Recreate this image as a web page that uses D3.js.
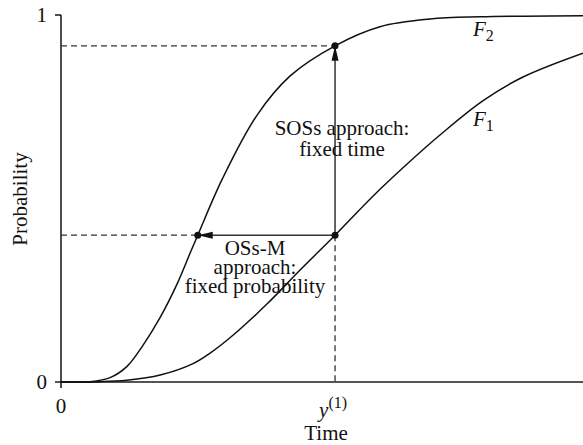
<!DOCTYPE html>
<html>
<head>
<meta charset="utf-8">
<script src="https://cdn.jsdelivr.net/npm/d3@7"></script>
<style>
  body { margin: 0; background: #fff; }
  svg text { font-family: "Liberation Serif", "Times New Roman", serif; fill: #111; }
</style>
</head>
<body>
<svg id="chart"></svg>
<script>
// Curve samples (time, probability)
const timeF1 = [0, 0.75, 1.26, 1.9, 2.53, 2.85, 3.3, 3.95, 4.58, 5.25, 5.98, 6.63, 7.26, 8.08, 8.85, 10];
const probF1 = [0, 0.001, 0.005, 0.019, 0.050, 0.078, 0.128, 0.213, 0.305, 0.40, 0.507, 0.594, 0.673, 0.766, 0.831, 0.896];
const timeF2 = [0, 0.56, 0.94, 1.26, 1.57, 1.9, 2.22, 2.49, 2.62, 3.1, 3.76, 4.39, 5.25, 6.11, 7.07, 8.03, 10];
const probF2 = [0, 0.001, 0.012, 0.042, 0.100, 0.176, 0.266, 0.357, 0.40, 0.556, 0.728, 0.834, 0.916, 0.968, 0.989, 0.995, 0.998];

// Marked points
const fixedTime = 5.25;     // y(1)
const fixedProb = 0.40;     // F1(y(1))
const probAtTime = 0.916;   // F2(y(1))
const timeAtProb = 2.62;    // F2^-1(0.40)

const yTicks = [0, 1];
const xTicks = [0];

const width = 583, height = 445;
const svg = d3.select('#chart').attr('width', width).attr('height', height);

const x = d3.scaleLinear().domain([0, 10]).range([61, 583]);
const y = d3.scaleLinear().domain([0, 1]).range([382, 15]);

// Arrow head
const defs = svg.append('defs');
defs.append('marker')
    .attr('id', 'head')
    .attr('markerUnits', 'userSpaceOnUse')
    .attr('viewBox', '0 -4 15 8')
    .attr('refX', 15).attr('refY', 0)
    .attr('markerWidth', 15).attr('markerHeight', 8)
    .attr('orient', 'auto')
  .append('path')
    .attr('d', 'M0,-3.5L15,0L0,3.5Z')
    .attr('fill', '#111');

// Axes
svg.append('line')
    .attr('x1', 55).attr('x2', 583)
    .attr('y1', y(0)).attr('y2', y(0))
    .attr('stroke', '#555').attr('stroke-width', 2.2);
svg.append('line')
    .attr('x1', x(0)).attr('x2', x(0))
    .attr('y1', y(1)).attr('y2', y(0) + 6)
    .attr('stroke', '#111').attr('stroke-width', 1.5);
svg.append('line')
    .attr('x1', 55).attr('x2', x(0))
    .attr('y1', y(1)).attr('y2', y(1))
    .attr('stroke', '#111').attr('stroke-width', 1.5);

svg.selectAll('.ytick')
    .data(yTicks)
    .enter().append('text')
    .attr('x', 47)
    .attr('y', d => y(d) + 7)
    .attr('text-anchor', 'end')
    .attr('font-size', 21)
    .text(d => d);

svg.selectAll('.xtick')
    .data(xTicks)
    .enter().append('text')
    .attr('x', d => x(d))
    .attr('y', 413)
    .attr('text-anchor', 'middle')
    .attr('font-size', 21)
    .text(d => d);

// y(1) label
const yLab = svg.append('text')
    .attr('x', x(fixedTime) - 2)
    .attr('y', 417)
    .attr('text-anchor', 'middle')
    .attr('font-size', 21);
yLab.append('tspan').attr('font-style', 'italic').text('y');
yLab.append('tspan').attr('font-size', 16).attr('dy', -9).text('(1)');

svg.append('text')
    .attr('x', 326).attr('y', 440)
    .attr('text-anchor', 'middle')
    .attr('font-size', 21)
    .text('Time');

svg.append('text')
    .attr('transform', 'translate(27,199) rotate(-90)')
    .attr('text-anchor', 'middle')
    .attr('font-size', 21)
    .text('Probability');

// Dashed guides
const dash = svg.append('g')
    .attr('stroke', '#333').attr('stroke-width', 1.3)
    .attr('stroke-dasharray', '6,4').attr('fill', 'none');
dash.append('line')
    .attr('x1', x(0)).attr('x2', x(fixedTime))
    .attr('y1', y(probAtTime)).attr('y2', y(probAtTime));
dash.append('line')
    .attr('x1', x(0)).attr('x2', x(timeAtProb))
    .attr('y1', y(fixedProb)).attr('y2', y(fixedProb));
dash.append('line')
    .attr('x1', x(fixedTime)).attr('x2', x(fixedTime))
    .attr('y1', y(fixedProb)).attr('y2', y(0));

// Curves
const line = d3.line()
    .x(d => x(d[0]))
    .y(d => y(d[1]))
    .curve(d3.curveCatmullRom.alpha(0.5));

svg.append('path')
    .datum(d3.zip(timeF1, probF1))
    .attr('d', line)
    .attr('fill', 'none').attr('stroke', '#111').attr('stroke-width', 1.5);
svg.append('path')
    .datum(d3.zip(timeF2, probF2))
    .attr('d', line)
    .attr('fill', 'none').attr('stroke', '#111').attr('stroke-width', 1.5);

// Arrows
svg.append('line')
    .attr('x1', x(fixedTime)).attr('x2', x(fixedTime))
    .attr('y1', y(fixedProb)).attr('y2', y(probAtTime))
    .attr('stroke', '#333').attr('stroke-width', 1.5)
    .attr('marker-end', 'url(#head)');
svg.append('line')
    .attr('x1', x(fixedTime)).attr('x2', x(timeAtProb))
    .attr('y1', y(fixedProb)).attr('y2', y(fixedProb))
    .attr('stroke', '#333').attr('stroke-width', 1.5)
    .attr('marker-end', 'url(#head)');

// Dots
const dots = [[fixedTime, fixedProb], [fixedTime, probAtTime], [timeAtProb, fixedProb]];
svg.selectAll('.dot')
    .data(dots)
    .enter().append('circle')
    .attr('cx', d => x(d[0]))
    .attr('cy', d => y(d[1]))
    .attr('r', 3.5)
    .attr('fill', '#111');

// Annotations
function block(lines, cx, y0, dy) {
    const t = svg.append('text')
        .attr('text-anchor', 'middle')
        .attr('font-size', 21);
    lines.forEach((s, i) => {
        t.append('tspan').attr('x', cx).attr('y', y0 + i * dy).text(s);
    });
}
block(['SOSs approach:', 'fixed time'], 342, 135, 21);
block(['OSs-M', 'approach:', 'fixed probability'], 255, 255, 19);

// Curve labels
function curveLabel(sub, lx, ly) {
    const t = svg.append('text').attr('x', lx).attr('y', ly).attr('font-size', 21);
    t.append('tspan').attr('font-style', 'italic').text('F');
    t.append('tspan').attr('font-size', 16).attr('dy', 5).text(sub);
}
curveLabel('2', 473, 36);
curveLabel('1', 473, 126);
</script>
</body>
</html>
